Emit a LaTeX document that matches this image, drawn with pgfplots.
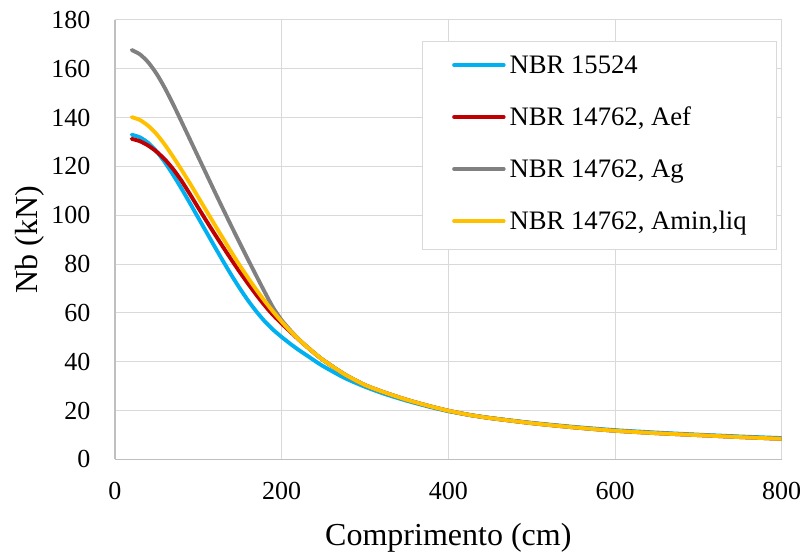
\documentclass[border=0pt]{standalone}
\usepackage{fontspec}
\setmainfont{Liberation Serif}
\usepackage{pgfplots}
\pgfplotsset{compat=1.18}
\usepackage{pgfplotstable}

\definecolor{cBlue}{HTML}{00B0F0}
\definecolor{cRed}{HTML}{C00000}
\definecolor{cGray}{HTML}{808080}
\definecolor{cYellow}{HTML}{FFC000}
\definecolor{gridc}{HTML}{D9D9D9}
\definecolor{axisc}{HTML}{BFBFBF}

% Nb (kN) versus length (cm) for each design rule
\pgfplotstableread{
L    blue   red    gray   yellow
20   133.0  131.3  167.7  140.2
30   131.9  130.3  165.9  139.0
40   129.6  128.5  162.6  136.6
50   126.1  126.0  157.9  133.2
60   121.6  122.8  152.0  128.8
70   116.4  118.8  145.3  123.8
80   110.8  114.0  138.2  118.5
90   104.9  108.6  131.0  113.0
100  98.9   103.0  123.8  107.3
110  92.9   97.5   116.6  101.6
120  86.9   92.1   109.4  95.9
130  81.0   86.8   102.3  90.3
140  75.3   81.6   95.3   84.7
150  69.9   76.6   88.4   79.3
160  64.9   71.8   81.6   74.2
170  60.4   67.2   74.9   69.3
180  56.4   62.9   68.3   64.7
190  53.0   59.0   62.0   60.4
200  50.1   55.6   57.0   56.4
210  47.4   52.4   53.0   52.7
220  44.9   49.2   49.4   49.3
230  42.6   46.2   46.2   46.2
240  40.3   43.3   43.3   43.3
250  38.1   40.6   40.6   40.6
275  33.4   34.9   34.9   34.9
300  29.7   30.4   30.4   30.4
325  26.6   27.2   27.2   27.2
350  24.0   24.4   24.4   24.4
375  21.7   22.0   22.0   22.0
400  19.7   19.9   19.9   19.9
425  18.2   18.2   18.2   18.2
450  16.95  16.9   16.9   16.9
500  14.95  14.8   14.8   14.8
550  13.3   13.1   13.1   13.1
600  11.95  11.7   11.7   11.7
650  10.95  10.7   10.7   10.7
700  10.1   9.9    9.9    9.9
750  9.35   9.1    9.1    9.1
800  8.7    8.4    8.4    8.4
}\nbdata

\begin{document}
\begin{tikzpicture}
\begin{axis}[
  at={(86.25pt,73.275pt)}, anchor=south west,
  scale only axis, width=500pt, height=329.5pt,
  xmin=0, xmax=800, ymin=0, ymax=180,
  xtick={0,200,...,800}, ytick={0,20,...,180},
  grid=major,
  major grid style={color=gridc, line width=0.75pt},
  axis x line*=bottom, axis y line*=left,
  axis line style={draw=axisc, line width=1pt, -},
  major tick length=0pt,
  /pgf/number format/assume math mode=true,
  tick label style={font=\fontsize{19.5}{23}\selectfont},
  yticklabel style={anchor=east, inner sep=0pt, xshift=-18.2pt},
  xticklabel style={anchor=north, inner sep=0pt, yshift=-17pt},
  label style={font=\fontsize{24}{28}\selectfont},
  xlabel={Comprimento (cm)},
  ylabel={Nb (kN)},
  xlabel style={at={(axis description cs:0.5,-0.1951)}, anchor=base},
  ylabel style={at={(axis description cs:-0.1166,0.5)}, anchor=base},
  legend cell align=left,
  legend style={at={(0.461,0.953)}, anchor=north west,
    draw=gridc, line width=0.75pt, fill=white,
    inner xsep=22pt, inner ysep=10.5pt,
    row sep=20.5pt, column sep=3pt,
    font=\fontsize{20}{24}\selectfont,
    nodes={inner sep=0pt, text height=14pt, text depth=4.5pt}},
  legend image code/.code={\draw[#1, line width=2.9pt, line cap=round] (1.4pt,1.8pt) -- (38.6pt,1.8pt);},
  every axis plot/.append style={line width=2.9pt, line cap=round, line join=round, smooth, tension=0.4},
]
\addplot[color=cBlue] table[x=L, y=blue] {\nbdata};
\addlegendentry{NBR 15524}
\addplot[color=cRed] table[x=L, y=red] {\nbdata};
\addlegendentry{NBR 14762, Aef}
\addplot[color=cGray] table[x=L, y=gray] {\nbdata};
\addlegendentry{NBR 14762, Ag}
\addplot[color=cYellow] table[x=L, y=yellow] {\nbdata};
\addlegendentry{NBR 14762, Amin,liq}
\end{axis}
\pgfresetboundingbox
\path[use as bounding box] (0pt,0pt) rectangle (603pt,417.75pt);
\end{tikzpicture}
\end{document}
